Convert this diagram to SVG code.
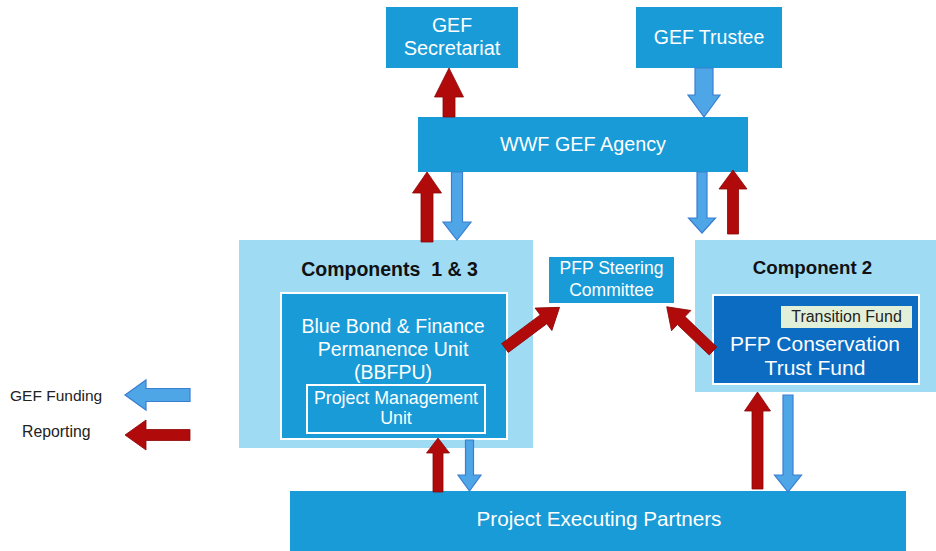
<svg xmlns="http://www.w3.org/2000/svg" width="936" height="551" viewBox="0 0 936 551">
  <style>
    .node { fill: #189bd7; }
    .comp { fill: #a0dbf4; }
    .inner { fill: #189bd7; stroke: #ffffff; stroke-width: 2; }
    .ctf { fill: #0b6cc2; stroke: #ffffff; stroke-width: 2; }
    .tf { fill: #e2f0d9; }
    .wt { font-family: "Liberation Sans", Arial, sans-serif; fill: #ffffff; text-anchor: middle; }
    .bt { font-family: "Liberation Sans", Arial, sans-serif; fill: #111111; text-anchor: middle; font-weight: bold; }
    .dt { font-family: "Liberation Sans", Arial, sans-serif; fill: #222222; }
    .red { fill: #b00a0a; stroke: #8a0606; stroke-width: 0.8; }
    .blue { fill: #4ea6e6; stroke: #3a7ed2; stroke-width: 1.2; }
  </style>
  <rect width="936" height="551" fill="#ffffff"/>

  <g id="gef-secretariat">
    <rect class="node" x="386" y="7" width="132" height="61"/>
    <text class="wt" x="452" y="32" font-size="19.5">GEF</text>
    <text class="wt" x="452" y="55" font-size="20">Secretariat</text>
  </g>

  <g id="gef-trustee">
    <rect class="node" x="636" y="7" width="146" height="61"/>
    <text class="wt" x="709" y="44" font-size="19.5">GEF Trustee</text>
  </g>

  <g id="wwf-gef-agency">
    <rect class="node" x="418" y="117" width="330" height="55"/>
    <text class="wt" x="583" y="151" font-size="19.8">WWF GEF Agency</text>
  </g>

  <g id="components-1-3">
    <rect class="comp" x="239" y="240" width="294" height="208"/>
    <text class="bt" x="389.5" y="276" font-size="19.5" style="white-space:pre" xml:space="preserve">Components  1 &amp; 3</text>
  </g>

  <g id="bbfpu">
    <rect class="inner" x="281" y="293" width="226" height="146"/>
    <text class="wt" x="393" y="333" font-size="19.5">Blue Bond &amp; Finance</text>
    <text class="wt" x="393" y="356" font-size="19.5">Permanence Unit</text>
    <text class="wt" x="393" y="379" font-size="19.5">(BBFPU)</text>
  </g>

  <g id="project-management-unit">
    <rect class="inner" x="307" y="385" width="178" height="48"/>
    <text class="wt" x="396" y="404" font-size="17.8">Project Management</text>
    <text class="wt" x="396" y="424" font-size="17.8">Unit</text>
  </g>

  <g id="pfp-steering-committee">
    <rect class="node" x="549" y="257" width="125" height="46"/>
    <text class="wt" x="611.5" y="274" font-size="17.5">PFP Steering</text>
    <text class="wt" x="611.5" y="296" font-size="17.5">Committee</text>
  </g>

  <g id="component-2">
    <rect class="comp" x="695" y="240" width="241" height="152"/>
    <text class="bt" x="812.5" y="274" font-size="18.7">Component 2</text>
  </g>

  <g id="pfp-conservation-trust-fund">
    <rect class="ctf" x="713" y="295" width="206" height="89"/>
    <text class="wt" x="815" y="351" font-size="21">PFP Conservation</text>
    <text class="wt" x="815" y="375" font-size="21">Trust Fund</text>
  </g>

  <g id="transition-fund">
    <rect class="tf" x="781" y="306" width="131" height="22"/>
    <text class="dt" x="846.5" y="321.5" font-size="16" text-anchor="middle">Transition Fund</text>
  </g>

  <g id="project-executing-partners">
    <rect class="node" x="290" y="491" width="616" height="60"/>
    <text class="wt" x="599" y="526" font-size="20.7">Project Executing Partners</text>
  </g>

  <g id="legend">
    <text class="dt" x="10" y="401" font-size="15.5">GEF Funding</text>
    <text class="dt" x="22" y="437" font-size="15.8">Reporting</text>
    <path class="blue" d="M190,388.5 H146 V380 L125,395 L146,410 V401.5 H190 Z"/>
    <path class="red" d="M190,429.5 H146 V420 L125,435 L146,450 V440.5 H190 Z"/>
  </g>

  <g id="connectors">
    <path class="red" d="M443,117 V97 H434.5 L449,68 L463.5,97 H455 V117 Z"/>
    <path class="blue" d="M695,68 V95 H688 L704,117 L720,95 H713 V68 Z"/>
    <path class="red" d="M421,242 V193 H412.5 L427,172 L441.5,193 H433 V242 Z"/>
    <path class="blue" d="M451.5,172 V222 H443 L457,240 L471,222 H462.5 V172 Z"/>
    <path class="blue" d="M697,172 V218 H688.5 L702,233 L715.5,218 H707 V172 Z"/>
    <path class="red" d="M727.5,234 V189 H719 L733,170 L747,189 H738.5 V234 Z"/>
    <path class="red" d="M433,492 V453 H426.5 L438,438 L449.5,453 H443 V492 Z"/>
    <path class="blue" d="M465.5,440 V475 H458 L469.5,491 L481,475 H473.5 V440 Z"/>
    <path class="red" d="M752,489 V411 H744.5 L757.5,392 L770.5,411 H763 V489 Z"/>
    <path class="blue" d="M783,395 V475 H774.5 L788,492 L801.5,475 H793 V395 Z"/>
    <path class="red" transform="translate(505,348) rotate(-36.7)" d="M0,-5.5 H48 V-14 L68,0 L48,14 V5.5 H0 Z"/>
    <path class="red" transform="translate(713,351) rotate(-136.3)" d="M0,-5.5 H44 V-14 L64,0 L44,14 V5.5 H0 Z"/>
  </g>
</svg>
